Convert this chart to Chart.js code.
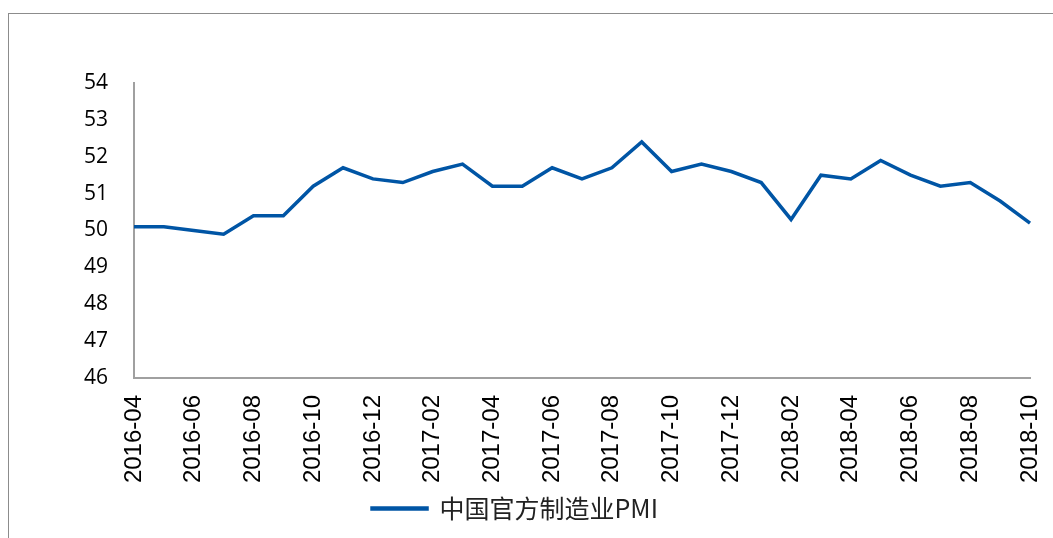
<!DOCTYPE html>
<html>
<head>
<meta charset="utf-8">
<script src="https://cdn.jsdelivr.net/npm/chart.js@4"></script>
<style>
  body { margin: 0; background: #fff; overflow: hidden; }
  .frame { position: absolute; left: 8px; top: 13px; width: 1200px; height: 700px; border: 1px solid #8c8c8c; }
  .wrap { position: absolute; left: 0; top: 0; width: 1053px; height: 538px; }
</style>
</head>
<body>
<div class="frame"></div>
<div class="wrap"><canvas id="myChart" width="1053" height="538"></canvas></div>
<script>
// 中国官方制造业PMI, monthly 2016-04 .. 2018-10
const months = [
    '2016-04', '2016-05', '2016-06', '2016-07', '2016-08', '2016-09', '2016-10', '2016-11', '2016-12',
    '2017-01', '2017-02', '2017-03', '2017-04', '2017-05', '2017-06', '2017-07', '2017-08', '2017-09',
    '2017-10', '2017-11', '2017-12', '2018-01', '2018-02', '2018-03', '2018-04', '2018-05', '2018-06',
    '2018-07', '2018-08', '2018-09', '2018-10'
];
const pmi = [
    50.1, 50.1, 50.0, 49.9, 50.4, 50.4, 51.2, 51.7, 51.4,
    51.3, 51.6, 51.8, 51.2, 51.2, 51.7, 51.4, 51.7, 52.4,
    51.6, 51.8, 51.6, 51.3, 50.3, 51.5, 51.4, 51.9, 51.5,
    51.2, 51.3, 50.8, 50.2
];
const yMin = 46;
const yMax = 54;

const lineColor = '#0055a5';
const axisColor = '#a0a0a0';

const ctx = document.getElementById('myChart').getContext('2d');

let myChart = new Chart(ctx, {
    type: 'line',
    data: {
        labels: months,
        datasets: [{
            label: '中国官方制造业PMI',
            data: pmi,
            borderColor: lineColor,
            backgroundColor: lineColor,
            borderWidth: 3.5,
            pointRadius: 0,
            tension: 0
        }]
    },
    options: {
        responsive: false,
        animation: false,
        layout: {
            padding: { left: 0, right: 23, top: 83, bottom: 7 }
        },
        plugins: {
            tooltip: { enabled: false },
            legend: {
                position: 'bottom',
                labels: {
                    boxWidth: 55,
                    boxHeight: 1,
                    padding: 8,
                    color: '#222',
                    font: { family: '"Noto Sans CJK SC", sans-serif', size: 25 }
                }
            }
        },
        scales: {
            x: {
                offset: false,
                grid: { display: false, drawTicks: false },
                border: { color: axisColor, width: 2 },
                afterFit: (scale) => {
                    scale.height = 110;
                    scale.paddingLeft = 0;
                    scale.paddingRight = 0;
                },
                ticks: {
                    autoSkip: false,
                    maxRotation: 90,
                    minRotation: 90,
                    padding: 17,
                    color: '#000',
                    font: { family: '"Liberation Sans", sans-serif', size: 24 },
                    callback: function (value, index) {
                        return index % 2 === 0 ? this.getLabelForValue(value) : '';
                    }
                }
            },
            y: {
                min: yMin,
                max: yMax,
                grid: { display: false, drawTicks: false },
                border: { color: axisColor, width: 2 },
                afterFit: (scale) => { scale.width = 134; },
                ticks: {
                    stepSize: 1,
                    padding: 26,
                    color: '#000',
                    font: { family: '"Open Sans", sans-serif', size: 21 }
                }
            }
        }
    }
});
</script>
</body>
</html>
